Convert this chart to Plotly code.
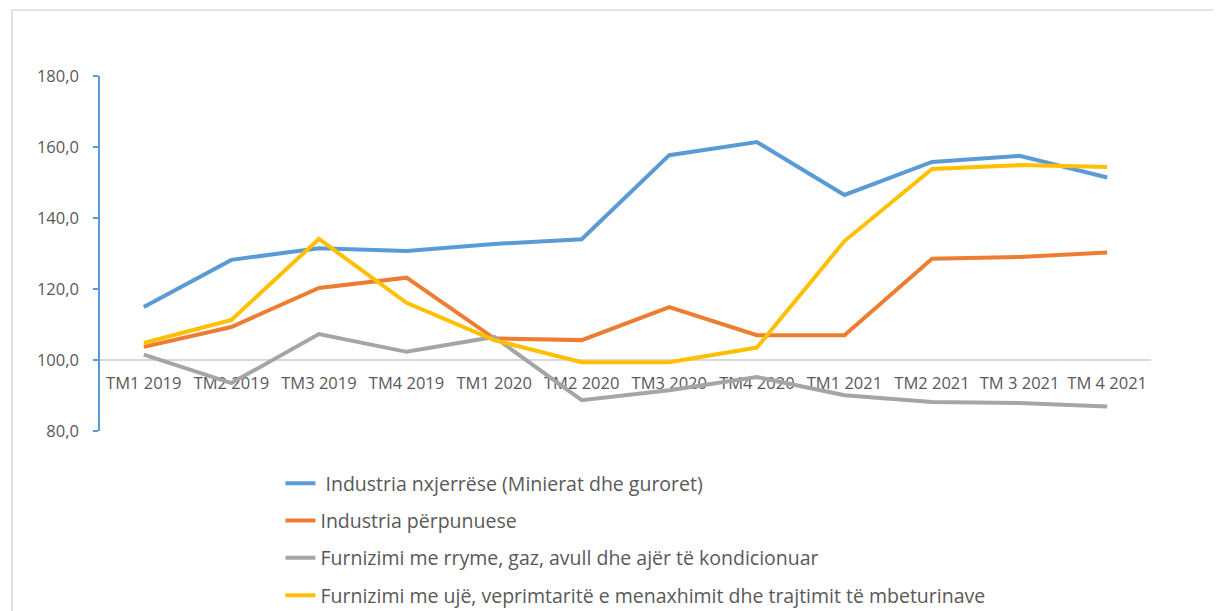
import plotly.graph_objects as go

categories = ["TM1 2019", "TM2 2019", "TM3 2019", "TM4 2019",
              "TM1 2020", "TM2 2020", "TM3 2020", "TM4 2020",
              "TM1 2021", "TM2 2021", "TM 3 2021", "TM 4 2021"]

industria_nxjerrese = [114.9, 128.2, 131.5, 130.7, 132.7, 134.0, 157.7, 161.4, 146.5, 155.8, 157.5, 151.4]
industria_perpunuese = [103.7, 109.3, 120.3, 123.2, 106.1, 105.6, 114.9, 107.0, 107.0, 128.5, 129.0, 130.3]
furnizimi_rryme = [101.5, 93.5, 107.3, 102.3, 106.5, 88.7, 91.5, 95.2, 90.1, 88.2, 87.9, 86.9]
furnizimi_uje = [104.8, 111.3, 134.1, 116.1, 105.6, 99.4, 99.4, 103.5, 133.5, 153.8, 154.9, 154.4]

series_names = [" Industria nxjerrëse (Minierat dhe guroret)",
                "Industria përpunuese",
                "Furnizimi me rryme, gaz, avull dhe ajër të kondicionuar",
                "Furnizimi me ujë, veprimtaritë e menaxhimit dhe trajtimit të mbeturinave"]
series_colors = ["#5b9bd5", "#ed7d31", "#a5a5a5", "#ffc000"]
series_values = [industria_nxjerrese, industria_perpunuese, furnizimi_rryme, furnizimi_uje]

y_ticks = [80, 100, 120, 140, 160, 180]

FONT = "Open Sans"
TXT = "#595959"

fig = go.Figure()
for name, col, vals in zip(series_names, series_colors, series_values):
    fig.add_trace(go.Scatter(
        x=categories, y=vals, mode="lines", name=name,
        line=dict(color=col, width=4), legendgroup=name,
    ))

y_min, y_max = 80, 180
cross = 100

fig.update_layout(
    width=1221, height=611,
    margin=dict(l=92, r=78, t=68, b=188, autoexpand=False),
    paper_bgcolor="white", plot_bgcolor="white",
    separators=",.",
    font=dict(family=FONT, color=TXT, size=16),
    showlegend=True,
    legend=dict(
        x=0.1717, xref="paper", y=0.2537, yref="container",
        xanchor="left", yanchor="top",
        orientation="v", font=dict(family=FONT, size=19.5, color=TXT),
        tracegroupgap=9, bgcolor="rgba(0,0,0,0)",
    ),
    xaxis=dict(
        type="category", range=[-0.5, len(categories) - 0.5],
        anchor="free", position=(cross - y_min) / (y_max - y_min),
        showline=True, linecolor="#d9d9d9", linewidth=2,
        showgrid=False, zeroline=False,
        ticks="", ticklabelstandoff=8,
        tickfont=dict(family=FONT, size=16.5, color=TXT),
        layer="below traces",
    ),
    yaxis=dict(
        range=[y_min, y_max], tickvals=y_ticks, tickformat=".1f",
        showline=True, linecolor="#5b9bd5", linewidth=1.5,
        ticks="outside", ticklen=5, tickcolor="#5b9bd5", tickwidth=1.5,
        showgrid=False, zeroline=False,
        ticklabelstandoff=11,
        tickfont=dict(family=FONT, size=16.5, color=TXT),
    ),
)

# outer chart frame
fig.add_shape(type="rect", xref="paper", yref="paper",
              x0=-0.0837, x1=1.2, y0=-0.7, y1=1.186,
              line=dict(color="#d9d9d9", width=1.5), fillcolor="rgba(0,0,0,0)",
              layer="below")

fig.write_html("out.html")
